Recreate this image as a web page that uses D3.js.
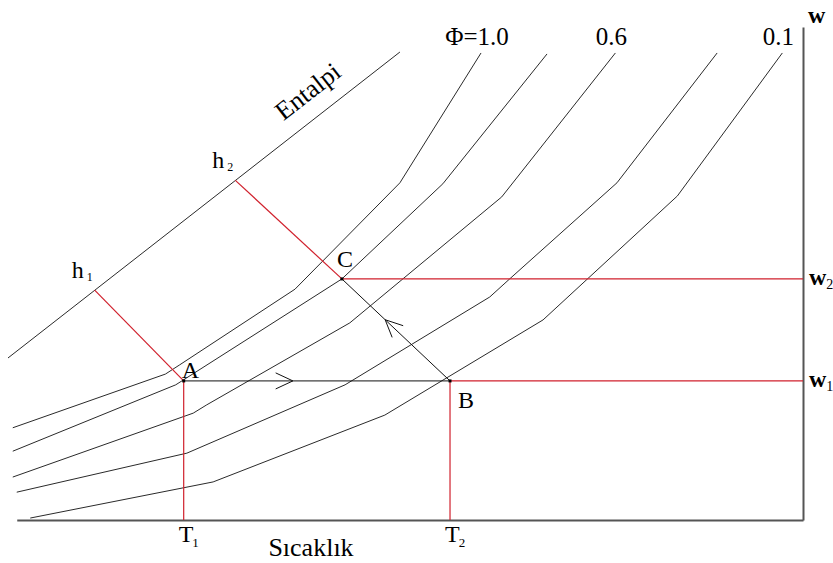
<!DOCTYPE html>
<html>
<head>
<meta charset="utf-8">
<script src="https://cdn.jsdelivr.net/npm/d3@7"></script>
<style>
  html, body { margin: 0; padding: 0; background: #fff; }
  svg { display: block; }
  text { font-family: "Liberation Serif", "Times New Roman", serif; fill: #000; }
</style>
</head>
<body>
<svg id="chart" width="833" height="563"></svg>
<script>
// Psychrometric sketch: temperature (x) vs. humidity ratio w (y), unitless 0–100 scale.

// Constant relative-humidity curves, from saturation (Φ=1.0) down to Φ=0.1
const phi1 = [[0.6, 18.9], [19.8, 29.9], [21.6, 31.8], [36.1, 47.3], [49.3, 69.1], [59.5, 95.7]];
const phi2 = [[0.6, 14.1], [21.1, 27.7], [42.0, 49.4], [54.7, 68.9], [67.8, 95.5]];
const phi3 = [[0.6, 8.8], [23.3, 21.9], [25.0, 23.6], [43.0, 40.4], [62.1, 66.2], [76.4, 95.7]];
const phi4 = [[1.1, 5.7], [22.5, 13.7], [42.4, 27.7], [60.6, 45.7], [63.1, 49.4], [76.6, 69.1], [89.2, 95.7]];
const phi5 = [[2.8, 0.4], [25.8, 7.8], [47.4, 21.5], [67.3, 41.0], [84.2, 66.4], [97.4, 95.7]];
const phiCurves = [phi1, phi2, phi3, phi4, phi5];
const phiLabels = ["Φ=1.0", "", "0.6", "", "0.1"];

// Enthalpy scale line and the two enthalpy readings on it
const enthalpyLine = [[0, 33.2], [49.3, 95.9]];
const enthalpyMarks = [[10.9, 47.1], [28.6, 69.6]];
const enthalpySubs = ["1", "2"];

// Process states: A -> B (sensible heating), B -> C (evaporative cooling)
const stateA = [22.1, 28.5];
const stateB = [55.6, 28.5];
const stateC = [42.0, 49.4];
const stateNames = ["A", "B", "C"];

// Axis extents and axis label texts
const tempAxisStart = 1.1;
const tempAxisEnd = 100;
const wAxisTop = 101;
const tempSubs = ["1", "2"];
const wSubs = ["1", "2"];
const xTitle = "Sıcaklık";
const yTitle = "w";
const enthalpyTitle = "Entalpi";

const RED = "#d0202c";
const INK = "#2a2a2a";

const svg = d3.select("#chart");
const x = d3.scaleLinear().domain([0, 100]).range([8, 803]);
const y = d3.scaleLinear().domain([0, 100]).range([520, 32]);
const px = d => [x(d[0]), y(d[1])];

// Axes: bottom (temperature) and right (humidity ratio), no ticks
const xAxisScale = d3.scaleLinear().domain([tempAxisStart, tempAxisEnd]).range([x(tempAxisStart), x(tempAxisEnd)]);
const yAxisScale = d3.scaleLinear().domain([0, wAxisTop]).range([y(0), y(wAxisTop)]);
const axes = svg.append("g");
axes.append("g").attr("transform", `translate(0,${y(0)})`)
  .call(d3.axisBottom(xAxisScale).tickValues([]).tickSizeOuter(0));
axes.append("g").attr("transform", `translate(${x(tempAxisEnd)},0)`)
  .call(d3.axisRight(yAxisScale).tickValues([]).tickSizeOuter(0));
axes.selectAll(".domain").attr("stroke", "#555").attr("stroke-width", 2);

const line = d3.line().x(d => x(d[0])).y(d => y(d[1]));

// Enthalpy line
svg.append("path").attr("d", line(enthalpyLine))
  .attr("fill", "none").attr("stroke", INK).attr("stroke-width", 1);

// Relative-humidity curves
svg.append("g").selectAll("path").data(phiCurves).join("path")
  .attr("d", line)
  .attr("fill", "none").attr("stroke", INK).attr("stroke-width", 1);

// Curve labels above their upper ends
svg.append("g").selectAll("text").data(phiCurves.map((c, i) => ({ top: c[c.length - 1], label: phiLabels[i] })).filter(d => d.label))
  .join("text")
  .attr("x", d => x(d.top[0]) - 4)
  .attr("y", d => y(d.top[1]) - 8)
  .attr("text-anchor", "middle")
  .attr("font-size", 25)
  .text(d => d.label);

// Red construction lines
const red = svg.append("g").attr("stroke", RED).attr("stroke-width", 1.2).attr("fill", "none");
red.append("path").attr("d", line([enthalpyMarks[0], stateA]));
red.append("path").attr("d", line([enthalpyMarks[1], stateC]));
red.append("path").attr("d", line([stateA, [stateA[0], 0]]));
red.append("path").attr("d", line([stateB, [stateB[0], 0]]));
red.append("path").attr("d", line([stateB, [tempAxisEnd, stateB[1]]]));
red.append("path").attr("d", line([stateC, [tempAxisEnd, stateC[1]]]));

// Process lines A -> B and B -> C
const proc = svg.append("g").attr("stroke", "#111").attr("stroke-width", 1).attr("fill", "none");
proc.append("path").attr("d", line([stateA, stateB]));
proc.append("path").attr("d", line([stateB, stateC]));

// Open arrowheads showing the process direction
function arrowAt(from, to, t) {
  const [x0, y0] = px(from), [x1, y1] = px(to);
  const tx = x0 + (x1 - x0) * t, ty = y0 + (y1 - y0) * t;
  const len = Math.hypot(x1 - x0, y1 - y0);
  const bx = (x0 - x1) / len, by = (y0 - y1) / len;
  const a = 25 * Math.PI / 180, L = 19;
  const w1 = [tx + L * (bx * Math.cos(a) - by * Math.sin(a)), ty + L * (bx * Math.sin(a) + by * Math.cos(a))];
  const w2 = [tx + L * (bx * Math.cos(-a) - by * Math.sin(-a)), ty + L * (bx * Math.sin(-a) + by * Math.cos(-a))];
  proc.append("path").attr("d", `M${w1[0]},${w1[1]}L${tx},${ty}L${w2[0]},${w2[1]}`);
}
arrowAt(stateA, stateB, 0.41);
arrowAt(stateB, stateC, 0.60);

// State point dots
svg.append("g").selectAll("rect").data([stateA, stateB, stateC]).join("rect")
  .attr("x", d => x(d[0]) - 1.5).attr("y", d => y(d[1]) - 1.5)
  .attr("width", 3).attr("height", 3).attr("fill", "#000");

// State labels
const stateOffsets = [[-2, -3], [8, 27], [-5, -12]];
svg.append("g").selectAll("text").data([stateA, stateB, stateC]).join("text")
  .attr("x", (d, i) => x(d[0]) + stateOffsets[i][0])
  .attr("y", (d, i) => y(d[1]) + stateOffsets[i][1])
  .attr("font-size", 24)
  .text((d, i) => stateNames[i]);

// Subscripted label helper
function subLabel(g, xPos, yPos, main, sub, opts) {
  const t = g.append("text").attr("x", xPos).attr("y", yPos).attr("font-size", opts.size);
  if (opts.bold) t.attr("font-weight", "bold");
  t.append("tspan").text(main);
  t.append("tspan").attr("dx", opts.gap).attr("dy", opts.drop)
    .attr("font-size", opts.subSize).attr("font-weight", "normal").text(sub);
}

const labels = svg.append("g");
// Enthalpy readings h1, h2
enthalpyMarks.forEach((m, i) => {
  subLabel(labels, x(m[0]) - 23, y(m[1]) - 12, "h", enthalpySubs[i], { size: 24, subSize: 12, gap: 3, drop: 3 });
});
// Temperatures T1, T2 under the axis
[stateA, stateB].forEach((s, i) => {
  subLabel(labels, x(s[0]) - 5, y(0) + 22, "T", tempSubs[i], { size: 24, subSize: 13, gap: -1, drop: 5 });
});
// Humidity ratios w1, w2 at the right axis
[stateB, stateC].forEach((s, i) => {
  subLabel(labels, x(tempAxisEnd) + 6, y(s[1]) + 6, "w", wSubs[i], { size: 24, subSize: 14, gap: 0, drop: 4, bold: true });
});

// Axis titles
labels.append("text").attr("x", x(tempAxisEnd) + 5).attr("y", 23)
  .attr("font-size", 24).attr("font-weight", "bold").text(yTitle);
labels.append("text").attr("x", 311).attr("y", y(0) + 36)
  .attr("text-anchor", "middle").attr("font-size", 26).text(xTitle);

// "Entalpi" written along the enthalpy line
{
  const [p0, p1] = enthalpyLine.map(px);
  const ang = Math.atan2(p1[1] - p0[1], p1[0] - p0[0]) * 180 / Math.PI;
  const tx = x(39.7), ty = y(enthalpyLine[0][1] + (39.7 - enthalpyLine[0][0]) * (enthalpyLine[1][1] - enthalpyLine[0][1]) / (enthalpyLine[1][0] - enthalpyLine[0][0]));
  labels.append("text")
    .attr("transform", `translate(${tx},${ty}) rotate(${ang})`)
    .attr("x", 0).attr("y", -17)
    .attr("text-anchor", "middle").attr("font-size", 26)
    .text(enthalpyTitle);
}
</script>
</body>
</html>
